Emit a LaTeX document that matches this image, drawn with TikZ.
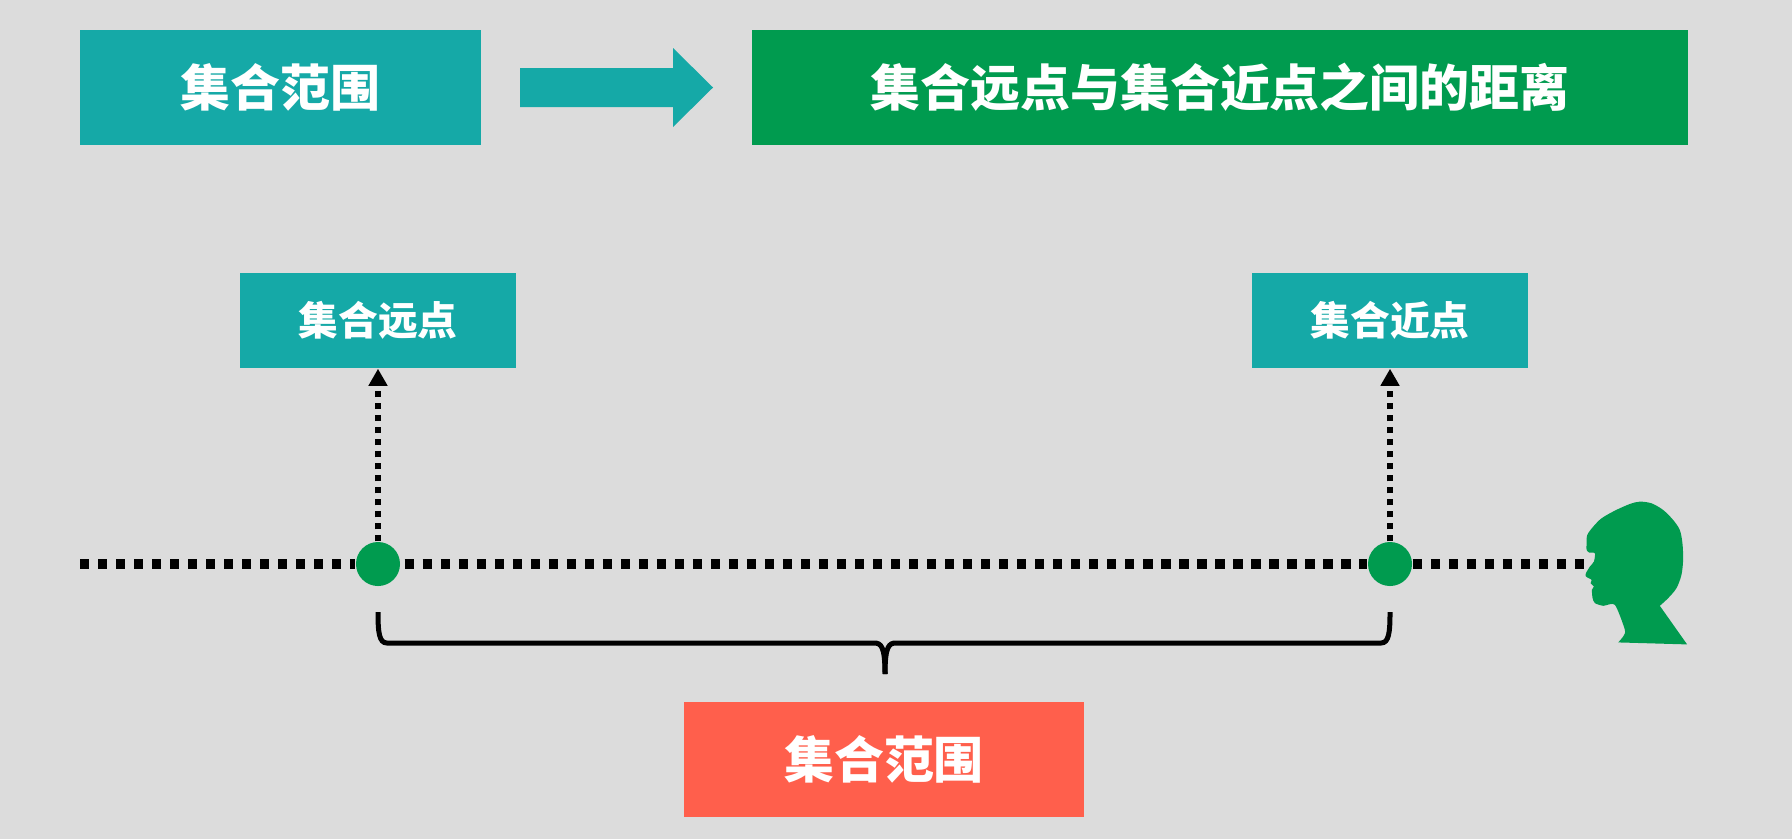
\documentclass[tikz,border=0pt]{standalone}
\usepackage{fontspec}
\setmainfont{Noto Sans CJK SC}
\usetikzlibrary{arrows.meta}
\definecolor{bgGray}{HTML}{DCDCDC}
\definecolor{tealBox}{HTML}{15A9A7}
\definecolor{greenBox}{HTML}{009B4F}
\definecolor{redBox}{HTML}{FF5F4C}
\begin{document}
\begin{tikzpicture}[x=0.01cm, y=-0.01cm,
                    box_style/.style={rectangle, inner sep=0pt, text=white, font=\bfseries},
                    big_style/.style={box_style, font=\fontsize{14.2}{14.2}\bfseries\selectfont, minimum height=1.15cm},
                    small_style/.style={box_style, fill=tealBox, font=\fontsize{11.3}{11.3}\bfseries\selectfont, minimum width=2.76cm, minimum height=0.95cm},
                    dot_style/.style={circle, fill=greenBox, inner sep=0pt, minimum width=0.44cm},
                    axis_style/.style={draw=black, line width=0.095cm, dash pattern=on 0.093cm off 0.087cm},
                    link_style/.style={draw=black, line width=0.062cm, dash pattern=on 0.062cm off 0.058cm, -{Triangle[length=0.17cm, width=0.18cm]}},
                    brace_style/.style={draw=black, line width=0.05cm}]
                    \fill[bgGray] (0, 0) rectangle (1792, 839);
                    \useasboundingbox (0, 0) rectangle (1792, 839);
                    \node[big_style, fill=tealBox, minimum width=4.01cm] (range1) at (280.5, 87.5) {集合范围};
                    \node[big_style, fill=greenBox, minimum width=9.36cm] (title) at (1220, 87.5) {集合远点与集合近点之间的距离};
                    \node[small_style] (farbox) at (378, 320.5) {集合远点};
                    \node[small_style] (nearbox) at (1390, 320.5) {集合近点};
                    \node[big_style, fill=redBox, minimum width=4cm] (range2) at (884, 759.5) {集合范围};
                    \node[dot_style] (far) at (378, 564) {};
                    \node[dot_style] (near) at (1390, 564) {};
                    \coordinate (start) at (80, 564);
                    \coordinate (eye) at (1584, 564);
                    % big arrow
                    \fill[tealBox] (520, 68) -- (673, 68) -- (673, 48) -- (713, 87.5) -- (673, 127) -- (673, 107) -- (520, 107) -- cycle;
                    % dotted lines
                    \draw[axis_style] (start) -- (far);
                    \draw[axis_style, dash phase=0.14cm] (far) -- (near);
                    \draw[axis_style] (near) -- (eye);
                    \draw[link_style] (far) -- (farbox);
                    \draw[link_style] (near) -- (nearbox);
                    % brace
                    \draw[brace_style] (378, 612) .. controls (378, 632) and (379, 643) .. (387, 643) -- (874, 643) .. controls (881, 643) and (885, 646) .. (885, 674);
                    \draw[brace_style] (1390, 612) .. controls (1390, 632) and (1389, 643) .. (1381, 643) -- (896, 643) .. controls (889, 643) and (885, 646) .. (885, 674);
                    % head
                    \fill[greenBox, shift={(1530, 480)}, x=0.00333cm, y=-0.00333cm]
                        plot[smooth] coordinates {(170, 190) (172, 165) (190, 140) (215, 115) (255, 92) (300, 72) (330, 65) (365, 70) (400, 90) (430, 120) (450, 150) (458, 190) (460, 240) (455, 285) (440, 325) (415, 355) (390, 378)}
                        -- (472, 494) -- (265, 488)
                        -- plot[smooth, tension=0.4] coordinates {(265, 488) (280, 470) (285, 450) (255, 375) (220, 378) (195, 370) (188, 355) (186, 330) (192, 320) (182, 310) (185, 300) (168, 290) (168, 280) (180, 260) (192, 245) (195, 220) (178, 218) (170, 210) (170, 190)} -- cycle;
                \end{tikzpicture}
\end{document}
